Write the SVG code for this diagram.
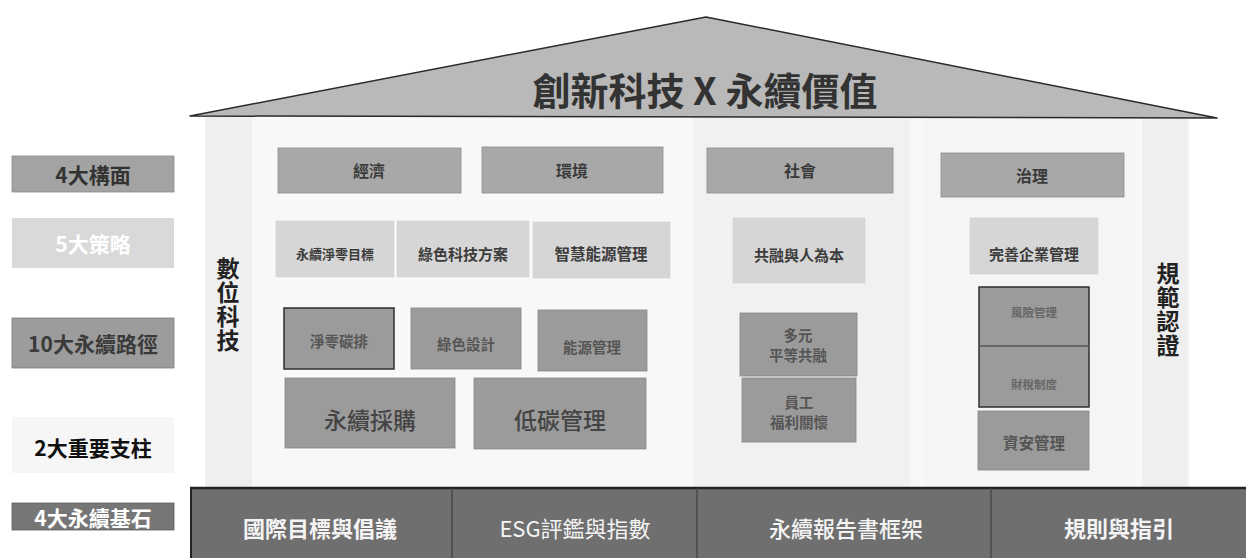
<svg xmlns="http://www.w3.org/2000/svg" width="1246" height="558" viewBox="0 0 1246 558">
<style>
text{font-family:"Noto Sans CJK TC","Noto Sans CJK SC",sans-serif;text-anchor:middle;dominant-baseline:central}
.mid{fill:#a8a8a8;stroke:#8c8c8c;stroke-width:0.8}
.lite{fill:#d6d6d6;stroke:#cfcfcf;stroke-width:0.6}
.path{fill:#9b9b9b;stroke:#858585;stroke-width:0.8}
.t1{font-size:16px;font-weight:700;fill:#3a3a3a}
.t2{font-weight:700;fill:#3c3c3c}
.t3{font-weight:700;fill:#555}
.big{font-size:23px;font-weight:500;fill:#444}
.lab{font-size:21px;font-weight:700}
.base{font-size:22px;fill:#f4f4f4}
.vert{font-size:23px;font-weight:700;fill:#222;writing-mode:vertical-rl;text-anchor:start;letter-spacing:1px}
</style>

<g id="background">
<rect x="205" y="117" width="985" height="370" fill="#f8f8f8"/>
<rect x="205" y="117" width="47" height="370" fill="#efefef"/>
<rect x="693" y="117" width="217" height="370" fill="#f1f1f1"/>
<rect x="925" y="117" width="210" height="370" fill="#f5f5f5"/>
<rect x="1142" y="117" width="46" height="370" fill="#efefef"/>
</g>

<g id="roof">
<polygon points="190,116 706,17 1217,118" fill="#b9b9b9" stroke="#2a2a2a" stroke-width="1.5" stroke-linejoin="round"/>
<text x="705" y="88" font-size="38" font-weight="700" fill="#333">創新科技 X 永續價值</text>
</g>

<g id="left-labels">
<g id="lab-4dim"><rect x="12" y="156" width="162" height="36" fill="#a3a3a3" stroke="#8a8a8a" stroke-width="0.8"/><text class="lab" x="93" y="174" fill="#333">4大構面</text></g>
<g id="lab-5strat"><rect x="12" y="218" width="162" height="50" fill="#d9d9d9"/><text class="lab" x="93" y="243" fill="#ffffff">5大策略</text></g>
<g id="lab-10path"><rect x="12" y="318" width="162" height="50" fill="#9c9c9c" stroke="#7e7e7e" stroke-width="0.8"/><text class="lab" x="93" y="343" fill="#3a3a3a">10大永續路徑</text></g>
<g id="lab-2pillar"><rect x="12" y="417" width="162" height="56" fill="#f6f6f6"/><text class="lab" x="93" y="447" fill="#111">2大重要支柱</text></g>
<g id="lab-4base"><rect x="12" y="503" width="162" height="27" fill="#767676" stroke="#5e5e5e" stroke-width="0.8"/><text class="lab" x="93" y="517" fill="#ffffff">4大永續基石</text></g>
</g>

<g id="pillar-digital">
<text class="vert" x="228" y="257">數位科技</text>
</g>
<g id="pillar-norm">
<text class="vert" x="1168" y="262">規範認證</text>
</g>

<g id="dim-economy"><rect class="mid" x="278" y="148" width="183" height="45"/><text class="t1" x="369" y="170">經濟</text></g>
<g id="dim-environment"><rect class="mid" x="482" y="147" width="181" height="46"/><text class="t1" x="572" y="170">環境</text></g>
<g id="dim-social"><rect class="mid" x="707" y="148" width="186" height="45"/><text class="t1" x="800" y="170">社會</text></g>
<g id="dim-governance"><rect class="mid" x="941" y="153" width="183" height="44"/><text class="t1" x="1032" y="175">治理</text></g>

<g id="st-netzero"><rect class="lite" x="276" y="221" width="118" height="56"/><text class="t2" x="335" y="253" font-size="13">永續淨零目標</text></g>
<g id="st-greentech"><rect class="lite" x="397" y="221" width="132" height="56"/><text class="t2" x="463" y="253" font-size="15">綠色科技方案</text></g>
<g id="st-smartenergy"><rect class="lite" x="533" y="222" width="137" height="56"/><text class="t2" x="601" y="253" font-size="15.5">智慧能源管理</text></g>
<g id="st-inclusion"><rect class="lite" x="733" y="218" width="132" height="65"/><text class="t2" x="799" y="254" font-size="15">共融與人為本</text></g>
<g id="st-governance"><rect class="lite" x="970" y="218" width="128" height="56"/><text class="t2" x="1034" y="253" font-size="15">完善企業管理</text></g>

<g id="p-carbon"><rect x="284" y="308" width="110" height="61" fill="#9b9b9b" stroke="#2e2e2e" stroke-width="1.5"/><text class="t3" x="339" y="340" font-size="14.5">淨零碳排</text></g>
<g id="p-greendesign"><rect class="path" x="411" y="308" width="110" height="61"/><text class="t3" x="466" y="343" font-size="14.5">綠色設計</text></g>
<g id="p-energy"><rect class="path" x="538" y="310" width="109" height="61"/><text class="t3" x="592" y="346" font-size="14.5">能源管理</text></g>
<g id="p-procure"><rect class="path" x="285" y="378" width="170" height="70"/><text class="big" x="370" y="419">永續採購</text></g>
<g id="p-lowcarbon"><rect class="path" x="474" y="378" width="172" height="71"/><text class="big" x="560" y="419">低碳管理</text></g>
<g id="p-diversity"><rect class="path" x="740" y="313" width="117" height="63"/><text class="t3" x="798" font-size="14.5"><tspan x="798" y="334">多元</tspan><tspan x="798" y="354">平等共融</tspan></text></g>
<g id="p-welfare"><rect class="path" x="742" y="378" width="114" height="64"/><text class="t3" x="799" font-size="14.5"><tspan x="799" y="401">員工</tspan><tspan x="799" y="421">福利關懷</tspan></text></g>
<g id="p-risk"><rect x="979" y="287" width="110" height="59" fill="#9b9b9b"/><text x="1034" y="312" font-size="11.5" font-weight="700" fill="#666">風險管理</text></g>
<g id="p-tax"><rect x="979" y="346" width="110" height="61" fill="#9b9b9b"/><text x="1034" y="384" font-size="11.5" font-weight="700" fill="#666">財稅制度</text></g>
<g id="risk-tax-frame" fill="none" stroke="#2e2e2e"><rect x="979" y="287" width="110" height="120" stroke-width="1.5"/><line x1="979" y1="346" x2="1089" y2="346" stroke-width="1.5" stroke="#555"/></g>
<g id="p-infosec"><rect class="path" x="978" y="411" width="111" height="59"/><text class="t3" x="1034" y="442" font-size="15.5">資安管理</text></g>

<g id="foundation">
<rect x="190" y="487" width="1056" height="71" fill="#6f6f6f"/>
<line x1="190" y1="488" x2="1246" y2="488" stroke="#222" stroke-width="2.5"/>
<line x1="191" y1="487" x2="191" y2="558" stroke="#222" stroke-width="2"/>
<g stroke="#3e3e3e" stroke-width="1.2"><line x1="452" y1="488" x2="452" y2="558"/><line x1="697" y1="488" x2="697" y2="558"/><line x1="991" y1="488" x2="991" y2="558"/></g>
<g id="f-intl"><text class="base" x="320" y="527" font-size="21" font-weight="700">國際目標與倡議</text></g>
<g id="f-esg"><text class="base" x="575" y="527" font-weight="400">ESG評鑑與指數</text></g>
<g id="f-report"><text class="base" x="846" y="527" font-size="23" font-weight="500">永續報告書框架</text></g>
<g id="f-rules"><text class="base" x="1119" y="527" font-size="23" font-weight="700">規則與指引</text></g>
</g>
</svg>
